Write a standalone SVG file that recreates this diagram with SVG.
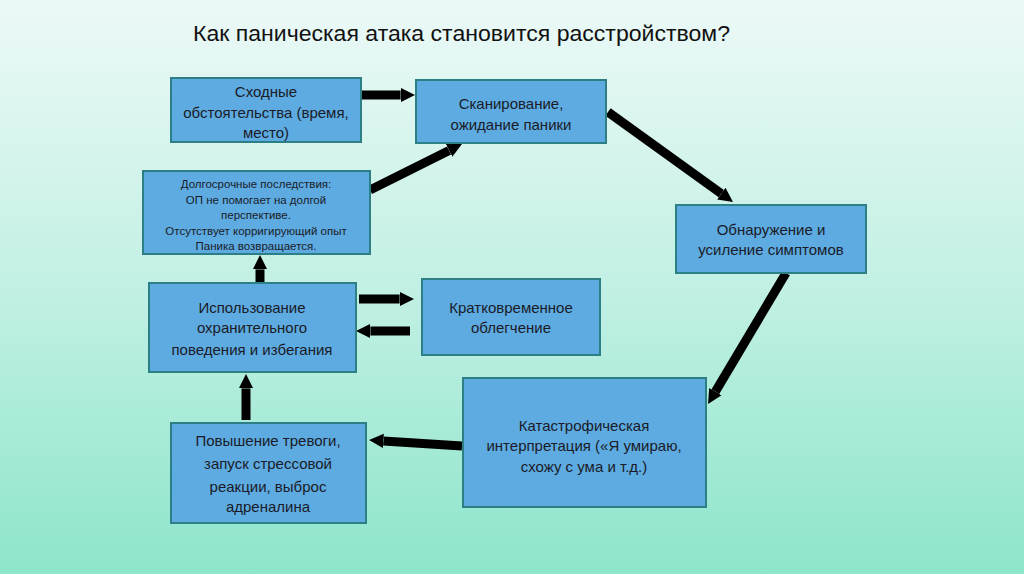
<svg xmlns="http://www.w3.org/2000/svg" width="1024" height="574" viewBox="0 0 1024 574">
<defs>
<linearGradient id="bg" x1="0" y1="0" x2="0" y2="1">
<stop offset="0" stop-color="#ecf9f7"/>
<stop offset="0.5" stop-color="#c2f0e4"/>
<stop offset="1" stop-color="#8de5cb"/>
</linearGradient>
<marker id="ah" viewBox="0 0 10 10" markerWidth="1.6" markerHeight="2" refX="0" refY="5" orient="auto" markerUnits="strokeWidth">
<path d="M0,0 L10,5 L0,10 z" fill="#000"/>
</marker>
<style>
.box{fill:#5dabe1;stroke:#2d7f86;stroke-width:2}
.t{font-family:"Liberation Sans","Open Sans",sans-serif;font-size:15px;fill:#1b1b28;text-anchor:middle}
.s{font-size:11.5px}
.c{stroke:#000;stroke-width:9;fill:none;marker-end:url(#ah)}
</style>
</defs>
<rect width="1024" height="574" fill="url(#bg)"/>
<text x="193" y="41" font-family="Liberation Sans, sans-serif" font-size="22" fill="#111" textLength="537" lengthAdjust="spacingAndGlyphs">Как паническая атака становится расстройством?</text>

<g id="connectors">
<line class="c" x1="362" y1="95" x2="400.6" y2="95"/>
<line class="c" x1="608" y1="112" x2="721.3" y2="193.6"/>
<line class="c" x1="370" y1="190" x2="449.1" y2="150.4"/>
<line class="c" x1="260" y1="283" x2="260" y2="269.4"/>
<line class="c" x1="359" y1="299" x2="399.6" y2="299"/>
<line class="c" x1="410" y1="331" x2="370.4" y2="331"/>
<line class="c" x1="786" y1="273" x2="715.4" y2="391.6"/>
<line class="c" x1="462" y1="446" x2="383.4" y2="440.9"/>
<line class="c" x1="246" y1="420" x2="246" y2="388.4"/>
</g>

<g id="n1">
<rect class="box" x="171" y="78" width="190" height="64"/>
<text class="t" x="266" y="97">Сходные</text>
<text class="t" x="266" y="118">обстоятельства (время,</text>
<text class="t" x="266" y="138">место)</text>
</g>
<g id="n2">
<rect class="box" x="416" y="80" width="190" height="63"/>
<text class="t" x="511" y="109">Сканирование,</text>
<text class="t" x="511" y="130">ожидание паники</text>
</g>
<g id="n3">
<rect class="box" x="143" y="171" width="227" height="83"/>
<text class="t s" x="256" y="188">Долгосрочные последствия:</text>
<text class="t s" x="256" y="204">ОП не помогает на долгой</text>
<text class="t s" x="256" y="219">перспективе.</text>
<text class="t s" x="256" y="235">Отсутствует корригирующий опыт</text>
<text class="t s" x="256" y="250">Паника возвращается.</text>
</g>
<g id="n4">
<rect class="box" x="676" y="205" width="190" height="68"/>
<text class="t" x="771" y="235">Обнаружение и</text>
<text class="t" x="771" y="255">усиление симптомов</text>
</g>
<g id="n5">
<rect class="box" x="149" y="283" width="207" height="89"/>
<text class="t" x="252" y="313">Использование</text>
<text class="t" x="252" y="333">охранительного</text>
<text class="t" x="252" y="355">поведения и избегания</text>
</g>
<g id="n6">
<rect class="box" x="422" y="279" width="178" height="76"/>
<text class="t" x="511" y="313">Кратковременное</text>
<text class="t" x="511" y="333">облегчение</text>
</g>
<g id="n7">
<rect class="box" x="463" y="378" width="243" height="129"/>
<text class="t" x="584" y="431">Катастрофическая</text>
<text class="t" x="584" y="451">интерпретация («Я умираю,</text>
<text class="t" x="584" y="472">схожу с ума и т.д.)</text>
</g>
<g id="n8">
<rect class="box" x="171" y="423" width="195" height="100"/>
<text class="t" x="268" y="446">Повышение тревоги,</text>
<text class="t" x="268" y="469">запуск стрессовой</text>
<text class="t" x="268" y="492">реакции, выброс</text>
<text class="t" x="268" y="512">адреналина</text>
</g>
</svg>
